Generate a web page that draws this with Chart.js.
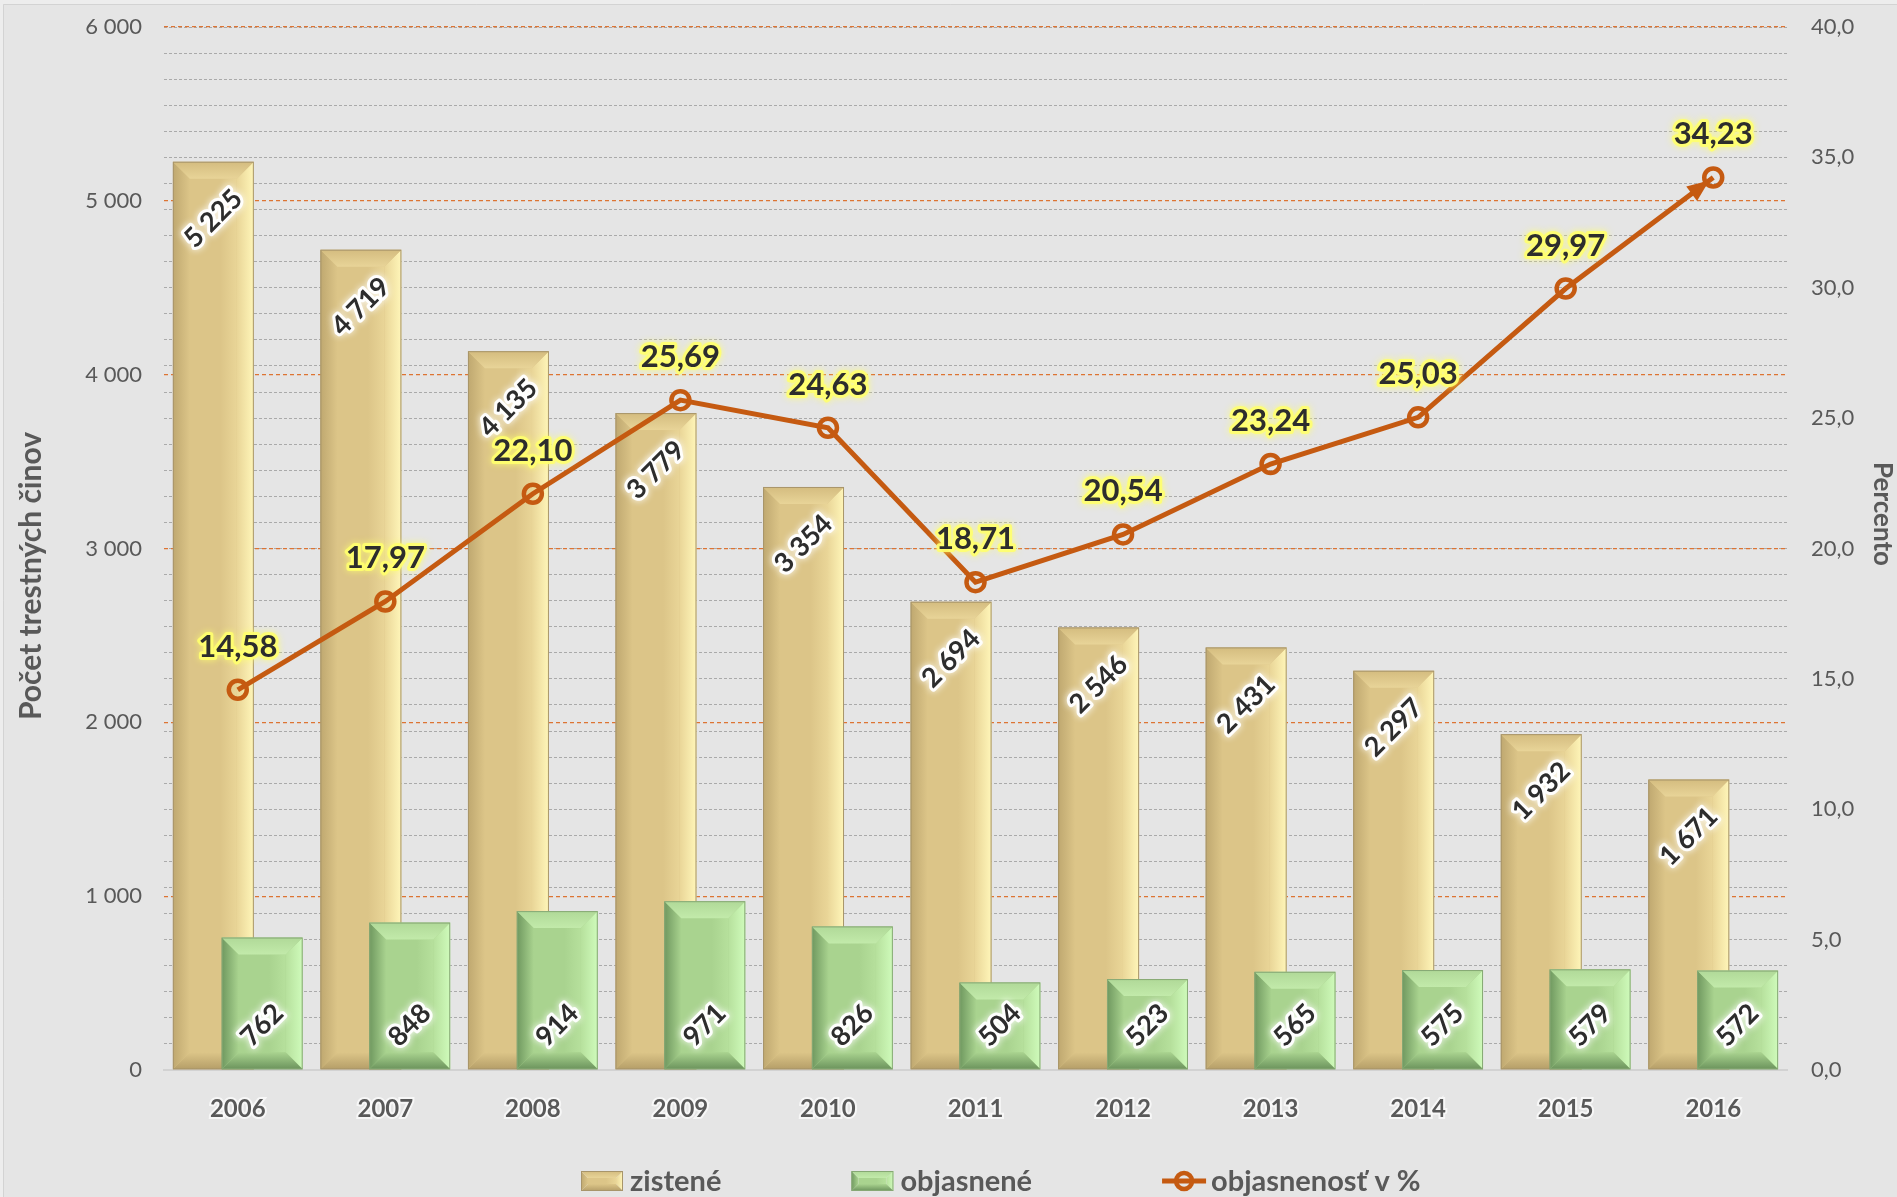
<!DOCTYPE html>
<html>
<head>
<meta charset="utf-8">
<title>Trestné činy 2006 – 2016</title>
<script src="https://cdn.jsdelivr.net/npm/chart.js@4.4.1/dist/chart.umd.min.js"></script>
<style>
  html, body { margin: 0; padding: 0; background: #e5e5e5; }
  canvas { display: block; }
</style>
</head>
<body>
<canvas id="crimeChart" width="1897" height="1197"></canvas>
<script>
// data
const years = ['2006', '2007', '2008', '2009', '2010', '2011', '2012', '2013', '2014', '2015', '2016'];
const zistene = [5225, 4719, 4135, 3779, 3354, 2694, 2546, 2431, 2297, 1932, 1671];
const objasnene = [762, 848, 914, 971, 826, 504, 523, 565, 575, 579, 572];
const objasnenost = [14.58, 17.97, 22.10, 25.69, 24.63, 18.71, 20.54, 23.24, 25.03, 29.97, 34.23];
const countTicks = [0, 1000, 2000, 3000, 4000, 5000, 6000];
const percentTicks = [0, 5, 10, 15, 20, 25, 30, 35, 40];
const seriesNames = ['zistené', 'objasnené', 'objasnenosť v %'];
const leftTitle = 'Počet trestných činov';
const rightTitle = 'Percento';

const FONT = 'Lato';
const GREY = '#595959';
const INK = '#2d2d2d';
const ORANGE = '#c55a11';
const BG = '#e5e5e5';

const fmtInt = v => String(Math.round(v)).replace(/\B(?=(\d{3})+(?!\d))/g, ' ');
const fmtDec = (v, d) => Number(v).toFixed(d).replace('.', ',');

// bevel colours for the two bar series
const bevel = [
    { face: '#dcc588', faceHi: '#e9d597', left: '#bfa870', right: '#fff6b9', top0: '#d4bc7f', top1: '#e8d498', bottom: '#b59e68', edge: '#a8956a' },
    { face: '#a9d38f', faceHi: '#b6e09c', left: '#6f985f', right: '#cffbbb', top0: '#b0d998', top1: '#c2eaaa', bottom: '#6b935c', edge: '#86a874' }
];

function poly(ctx, pts, fill) {
    ctx.beginPath();
    ctx.moveTo(pts[0], pts[1]);
    for (let i = 2; i < pts.length; i += 2) ctx.lineTo(pts[i], pts[i + 1]);
    ctx.closePath();
    ctx.fillStyle = fill;
    ctx.fill();
}

function bevelRect(ctx, l, t, r, b, p, size) {
    const bv = Math.min(size, (r - l) / 4, (b - t) / 2);
    let g = ctx.createLinearGradient(l + bv, 0, r - bv, 0);
    g.addColorStop(0, p.face);
    g.addColorStop(0.65, p.face);
    g.addColorStop(1, p.faceHi);
    ctx.fillStyle = g;
    ctx.fillRect(l + bv, t + bv, r - l - 2 * bv, b - t - 2 * bv);

    g = ctx.createLinearGradient(l, 0, l + bv, 0);
    g.addColorStop(0, p.left);
    g.addColorStop(1, p.face);
    poly(ctx, [l, t, l + bv, t + bv, l + bv, b - bv, l, b], g);

    g = ctx.createLinearGradient(r - bv, 0, r, 0);
    g.addColorStop(0, p.faceHi);
    g.addColorStop(1, p.right);
    poly(ctx, [r, t, r, b, r - bv, b - bv, r - bv, t + bv], g);

    g = ctx.createLinearGradient(0, t, 0, t + bv);
    g.addColorStop(0, p.top0);
    g.addColorStop(1, p.top1);
    poly(ctx, [l, t, r, t, r - bv, t + bv, l + bv, t + bv], g);

    g = ctx.createLinearGradient(0, b - bv, 0, b);
    g.addColorStop(0, p.face);
    g.addColorStop(1, p.bottom);
    poly(ctx, [l, b, l + bv, b - bv, r - bv, b - bv, r, b], g);

    ctx.strokeStyle = p.edge;
    ctx.lineWidth = 1;
    ctx.strokeRect(l + 0.5, t + 0.5, r - l - 1, b - t - 1);
}

function glowText(ctx, text, x, y, font, glow, rot) {
    ctx.save();
    ctx.translate(x, y);
    if (rot) ctx.rotate(rot);
    ctx.font = font;
    ctx.textAlign = 'center';
    ctx.textBaseline = 'middle';
    ctx.lineJoin = 'round';
    ctx.shadowColor = glow;
    ctx.shadowBlur = 7;
    ctx.strokeStyle = glow;
    ctx.lineWidth = 6;
    ctx.strokeText(text, 0, 0);
    ctx.shadowBlur = 0;
    ctx.fillStyle = INK;
    ctx.fillText(text, 0, 0);
    ctx.restore();
}

// vertical axes: fixed widths, and no extra room above/below for the end labels
const fixVertical = w => s => {
    s.width = w;
    s.paddingTop = 0;
    s.paddingBottom = 0;
};

// draws bars, bevels, line, arrow and the value labels in Excel's stacking order
const excelLook = {
    id: 'excelLook',
    beforeDraw(chart) {
        const ctx = chart.ctx;
        ctx.save();
        ctx.fillStyle = BG;
        ctx.fillRect(0, 0, chart.width, chart.height);
        ctx.fillStyle = '#ededed';
        ctx.fillRect(0, 0, chart.width, 4);
        ctx.fillRect(0, 0, 3, chart.height);
        ctx.strokeStyle = '#d3d3d3';
        ctx.lineWidth = 1;
        ctx.beginPath();
        ctx.moveTo(3.5, chart.height);
        ctx.lineTo(3.5, 4.5);
        ctx.lineTo(chart.width, 4.5);
        ctx.stroke();
        ctx.restore();
    },
    beforeDatasetsDraw(chart) {
        const ctx = chart.ctx;
        ctx.save();
        [0, 1].forEach(i => {
            const meta = chart.getDatasetMeta(i);
            meta.controller.draw();
            meta.data.forEach(el => {
                const { x, y, base, width } = el.getProps(['x', 'y', 'base', 'width'], true);
                bevelRect(ctx, x - width / 2, Math.min(y, base), x + width / 2, Math.max(y, base), bevel[i], 17);
            });
        });

        const lineMeta = chart.getDatasetMeta(2);
        lineMeta.controller.draw();

        // arrow head on the last segment
        const pts = lineMeta.data;
        const a = pts[pts.length - 2], b = pts[pts.length - 1];
        const ang = Math.atan2(b.y - a.y, b.x - a.x);
        const tipX = b.x - Math.cos(ang) * 5, tipY = b.y - Math.sin(ang) * 5;
        ctx.save();
        ctx.translate(tipX, tipY);
        ctx.rotate(ang);
        ctx.beginPath();
        ctx.moveTo(0, 0);
        ctx.lineTo(-22, -9);
        ctx.lineTo(-22, 9);
        ctx.closePath();
        ctx.fillStyle = ORANGE;
        ctx.fill();
        ctx.restore();

        // value labels
        const barFont = `bold 27px ${FONT}`;
        chart.getDatasetMeta(0).data.forEach((el, i) => {
            glowText(ctx, fmtInt(zistene[i]), el.x, el.y + 57, barFont, 'rgba(255,255,255,0.95)', -Math.PI / 4);
        });
        chart.getDatasetMeta(1).data.forEach((el, i) => {
            glowText(ctx, fmtInt(objasnene[i]), el.x, el.base - 44, barFont, 'rgba(255,255,255,0.95)', -Math.PI / 4);
        });
        pts.forEach((el, i) => {
            glowText(ctx, fmtDec(objasnenost[i], 2), el.x, el.y - 43, `bold 31px ${FONT}`, 'rgba(255,255,110,0.9)', 0);
        });
        ctx.restore();
        return false;
    },
    afterDraw(chart) {
        const ctx = chart.ctx;
        ctx.save();
        // axis titles
        ctx.fillStyle = GREY;
        ctx.textAlign = 'center';
        ctx.textBaseline = 'middle';
        ctx.save();
        ctx.translate(31, 576);
        ctx.rotate(-Math.PI / 2);
        ctx.font = `bold 30px ${FONT}`;
        ctx.fillText(leftTitle, 0, 0);
        ctx.restore();
        ctx.save();
        ctx.translate(1882, 514);
        ctx.rotate(Math.PI / 2);
        ctx.font = `bold 26px ${FONT}`;
        ctx.fillText(rightTitle, 0, 0);
        ctx.restore();

        // legend
        const cy = 1181;
        let x = 581;
        ctx.font = `bold 29px ${FONT}`;
        ctx.textAlign = 'left';
        chart.data.datasets.forEach((ds, i) => {
            if (i < 2) {
                bevelRect(ctx, x, cy - 10, x + 42, cy + 10, bevel[i], 7);
            } else {
                ctx.strokeStyle = ORANGE;
                ctx.lineWidth = 5;
                ctx.beginPath();
                ctx.moveTo(x, cy);
                ctx.lineTo(x + 44, cy);
                ctx.stroke();
                ctx.lineWidth = 4.5;
                ctx.beginPath();
                ctx.arc(x + 22, cy, 8, 0, Math.PI * 2);
                ctx.stroke();
            }
            ctx.fillStyle = GREY;
            ctx.fillText(ds.label, x + 49, cy + 1);
            x += 49 + ctx.measureText(ds.label).width + 130;
        });
        ctx.restore();
    }
};

function buildChart() {
    const ctx = document.getElementById('crimeChart').getContext('2d');
    new Chart(ctx, {
        type: 'bar',
        data: {
            labels: years,
            datasets: [
                {
                    label: seriesNames[0],
                    data: zistene,
                    yAxisID: 'y',
                    backgroundColor: bevel[0].face,
                    borderColor: bevel[0].edge,
                    borderWidth: 1,
                    categoryPercentage: 0.662,
                    barPercentage: 1.658
                },
                {
                    label: seriesNames[1],
                    data: objasnene,
                    yAxisID: 'y',
                    backgroundColor: bevel[1].face,
                    borderColor: bevel[1].edge,
                    borderWidth: 1,
                    categoryPercentage: 0.662,
                    barPercentage: 1.658
                },
                {
                    type: 'line',
                    label: seriesNames[2],
                    data: objasnenost,
                    yAxisID: 'y1',
                    borderColor: ORANGE,
                    borderWidth: 5,
                    tension: 0,
                    pointRadius: 9,
                    pointBorderWidth: 4.5,
                    pointBackgroundColor: 'rgba(0,0,0,0)',
                    pointBorderColor: ORANGE
                }
            ]
        },
        options: {
            responsive: false,
            animation: false,
            devicePixelRatio: 1,
            layout: { padding: { top: 27, left: 0, right: 0, bottom: 0 } },
            plugins: {
                legend: { display: false },
                tooltip: { enabled: false }
            },
            scales: {
                x: {
                    grid: { display: false },
                    border: { display: true, color: '#d2d2d2', width: 2 },
                    ticks: {
                        color: GREY,
                        font: { family: FONT, size: 24, weight: 'bold' },
                        padding: 17,
                        textStrokeColor: 'rgba(255,255,255,0.7)',
                        textStrokeWidth: 4
                    },
                    afterFit: s => { s.height = 127; }
                },
                y: {
                    position: 'left',
                    min: countTicks[0],
                    max: countTicks[countTicks.length - 1],
                    ticks: {
                        stepSize: countTicks[1] - countTicks[0],
                        color: GREY,
                        font: { family: FONT, size: 22 },
                        padding: 22,
                        callback: v => fmtInt(v)
                    },
                    grid: {
                        drawTicks: false,
                        z: -1,
                        lineWidth: 1.3,
                        color: c => c.tick && c.tick.value === 0 ? 'rgba(0,0,0,0)' : '#dd7433'
                    },
                    border: { display: false, dash: [4, 3] },
                    afterFit: fixVertical(164)
                },
                y1: {
                    position: 'right',
                    min: percentTicks[0],
                    max: percentTicks[percentTicks.length - 1],
                    ticks: {
                        stepSize: 1,
                        autoSkip: false,
                        color: GREY,
                        font: { family: FONT, size: 22 },
                        padding: 24,
                        callback: v => percentTicks.includes(v) ? fmtDec(v, 1) : ''
                    },
                    grid: {
                        drawTicks: false,
                        z: -2,
                        lineWidth: 1,
                        color: c => c.tick && c.tick.value === 0 ? 'rgba(0,0,0,0)' : '#aaaaaa'
                    },
                    border: { display: false, dash: [3, 2] },
                    afterFit: fixVertical(110)
                }
            }
        },
        plugins: [excelLook]
    });
}

Promise.all([
    document.fonts.load(`bold 30px ${FONT}`),
    document.fonts.load(`22px ${FONT}`)
]).then(buildChart, buildChart);
</script>
</body>
</html>
